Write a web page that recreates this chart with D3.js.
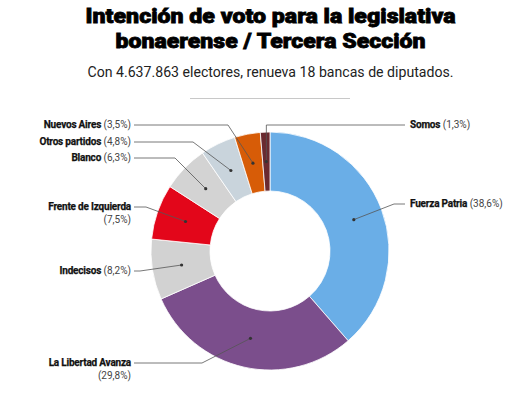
<!DOCTYPE html>
<html>
<head>
<meta charset="utf-8">
<script src="https://cdn.jsdelivr.net/npm/d3@7"></script>
<style>
  body { margin: 0; background: #fff; }
  svg { display: block; font-family: Roboto, sans-serif; }
  .title-main { font-family: Roboto, sans-serif; font-weight: 900; stroke: #000; stroke-width: 0.8px; }
  .lbl-name { font-weight: 700; stroke: #111; stroke-width: 0.25px; }
</style>
</head>
<body>
<div id="chart"></div>
<script>
// Data
const parties = ['Fuerza Patria', 'La Libertad Avanza', 'Indecisos', 'Frente de Izquierda',
  'Blanco', 'Otros partidos', 'Nuevos Aires', 'Somos'];
const shares = [38.6, 29.8, 8.2, 7.5, 6.3, 4.8, 3.5, 1.3];
const shareLabels = ['(38,6%)', '(29,8%)', '(8,2%)', '(7,5%)', '(6,3%)', '(4,8%)', '(3,5%)', '(1,3%)'];
const colors = ['#6aaee7', '#7b4e8c', '#d2d2d2', '#e3061a', '#d3d3d3', '#c9d4dc', '#d75c07', '#6a2a30'];

const width = 521, height = 399;
const cx = 270, cy = 251;
const outerR = 119, innerR = 60;

// label layout: side, text y, elbow x, value on second line
const labelLayout = [
  { side: 'right', y: 204, elbowX: 394, twoLines: false },
  { side: 'left', y: 363, elbowX: 202, twoLines: true },
  { side: 'left', y: 271, elbowX: 140, twoLines: false },
  { side: 'left', y: 207, elbowX: 146, twoLines: true },
  { side: 'left', y: 158, elbowX: 175, twoLines: false },
  { side: 'left', y: 142, elbowX: 193, twoLines: false },
  { side: 'left', y: 125, elbowX: 228, twoLines: false },
  { side: 'right', y: 125, elbowX: null, twoLines: false }
];

const svg = d3.select('#chart').append('svg')
  .attr('width', width)
  .attr('height', height);

// Title
const title = svg.append('g').attr('class', 'title');
title.append('text')
  .attr('class', 'title-main')
  .attr('x', width / 2 + 10).attr('y', 23)
  .attr('text-anchor', 'middle')
  .attr('font-size', 21).attr('fill', '#000')
  .attr('textLength', 370).attr('lengthAdjust', 'spacingAndGlyphs')
  .text('Intención de voto para la legislativa');
title.append('text')
  .attr('class', 'title-main')
  .attr('x', width / 2 + 10).attr('y', 48)
  .attr('text-anchor', 'middle')
  .attr('font-size', 21).attr('fill', '#000')
  .attr('textLength', 310).attr('lengthAdjust', 'spacingAndGlyphs')
  .text('bonaerense / Tercera Sección');
title.append('text')
  .attr('x', width / 2 + 10).attr('y', 77)
  .attr('text-anchor', 'middle')
  .attr('font-size', 14).attr('fill', '#222')
  .attr('textLength', 366).attr('lengthAdjust', 'spacingAndGlyphs')
  .text('Con 4.637.863 electores, renueva 18 bancas de diputados.');
svg.append('line')
  .attr('x1', 190).attr('x2', 350)
  .attr('y1', 98.5).attr('y2', 98.5)
  .attr('stroke', '#c8c8c8').attr('stroke-width', 1);

// Donut
const data = parties.map((p, i) => ({ party: p, value: shares[i], label: shareLabels[i], color: colors[i], layout: labelLayout[i] }));
const pie = d3.pie().value(d => d.value).sort(null);
const arc = d3.arc().innerRadius(innerR).outerRadius(outerR);
const midArc = d3.arc().innerRadius((innerR + outerR) / 2).outerRadius((innerR + outerR) / 2);
const arcs = pie(data);

const chart = svg.append('g').attr('transform', `translate(${cx},${cy})`);
chart.selectAll('path.slice')
  .data(arcs)
  .join('path')
  .attr('class', 'slice')
  .attr('d', arc)
  .attr('fill', d => d.data.color)
  .attr('stroke', '#fff')
  .attr('stroke-width', 0.8);

// Leader lines and dots
const leaders = svg.append('g').attr('class', 'leaders');
arcs.forEach(d => {
  const [mx, my] = midArc.centroid(d);
  const px = cx + mx, py = cy + my;
  const l = d.data.layout;
  let pts;
  if (l.side === 'right') {
    if (l.elbowX === null) {
      pts = [[px, py], [px, l.y], [405, l.y]];
    } else {
      pts = [[px, py], [l.elbowX, l.y], [405, l.y]];
    }
  } else {
    pts = [[px, py], [l.elbowX, l.y], [134, l.y]];
  }
  leaders.append('path')
    .attr('d', d3.line()(pts))
    .attr('fill', 'none')
    .attr('stroke', '#555')
    .attr('stroke-width', 0.8);
  leaders.append('circle')
    .attr('cx', px).attr('cy', py).attr('r', 1.6)
    .attr('fill', '#333');

  const t = leaders.append('text')
    .attr('font-size', 10)
    .attr('fill', '#111')
    .attr('dominant-baseline', 'middle');
  if (l.side === 'right') {
    t.attr('x', 410).attr('y', l.y).attr('text-anchor', 'start');
    t.append('tspan').attr('class', 'lbl-name').attr('letter-spacing', -0.2).text(d.data.party);
    t.append('tspan').attr('fill', '#444').text(' ' + d.data.label);
  } else if (l.twoLines) {
    t.attr('x', 131).attr('y', l.y).attr('text-anchor', 'end');
    t.append('tspan').attr('class', 'lbl-name').attr('letter-spacing', -0.2).text(d.data.party);
    leaders.append('text')
      .attr('font-size', 10).attr('fill', '#444')
      .attr('dominant-baseline', 'middle')
      .attr('x', 131).attr('y', l.y + 13).attr('text-anchor', 'end')
      .text(d.data.label);
  } else {
    t.attr('x', 131).attr('y', l.y).attr('text-anchor', 'end');
    t.append('tspan').attr('class', 'lbl-name').attr('letter-spacing', -0.2).text(d.data.party);
    t.append('tspan').attr('fill', '#444').text(' ' + d.data.label);
  }
});
</script>
</body>
</html>
